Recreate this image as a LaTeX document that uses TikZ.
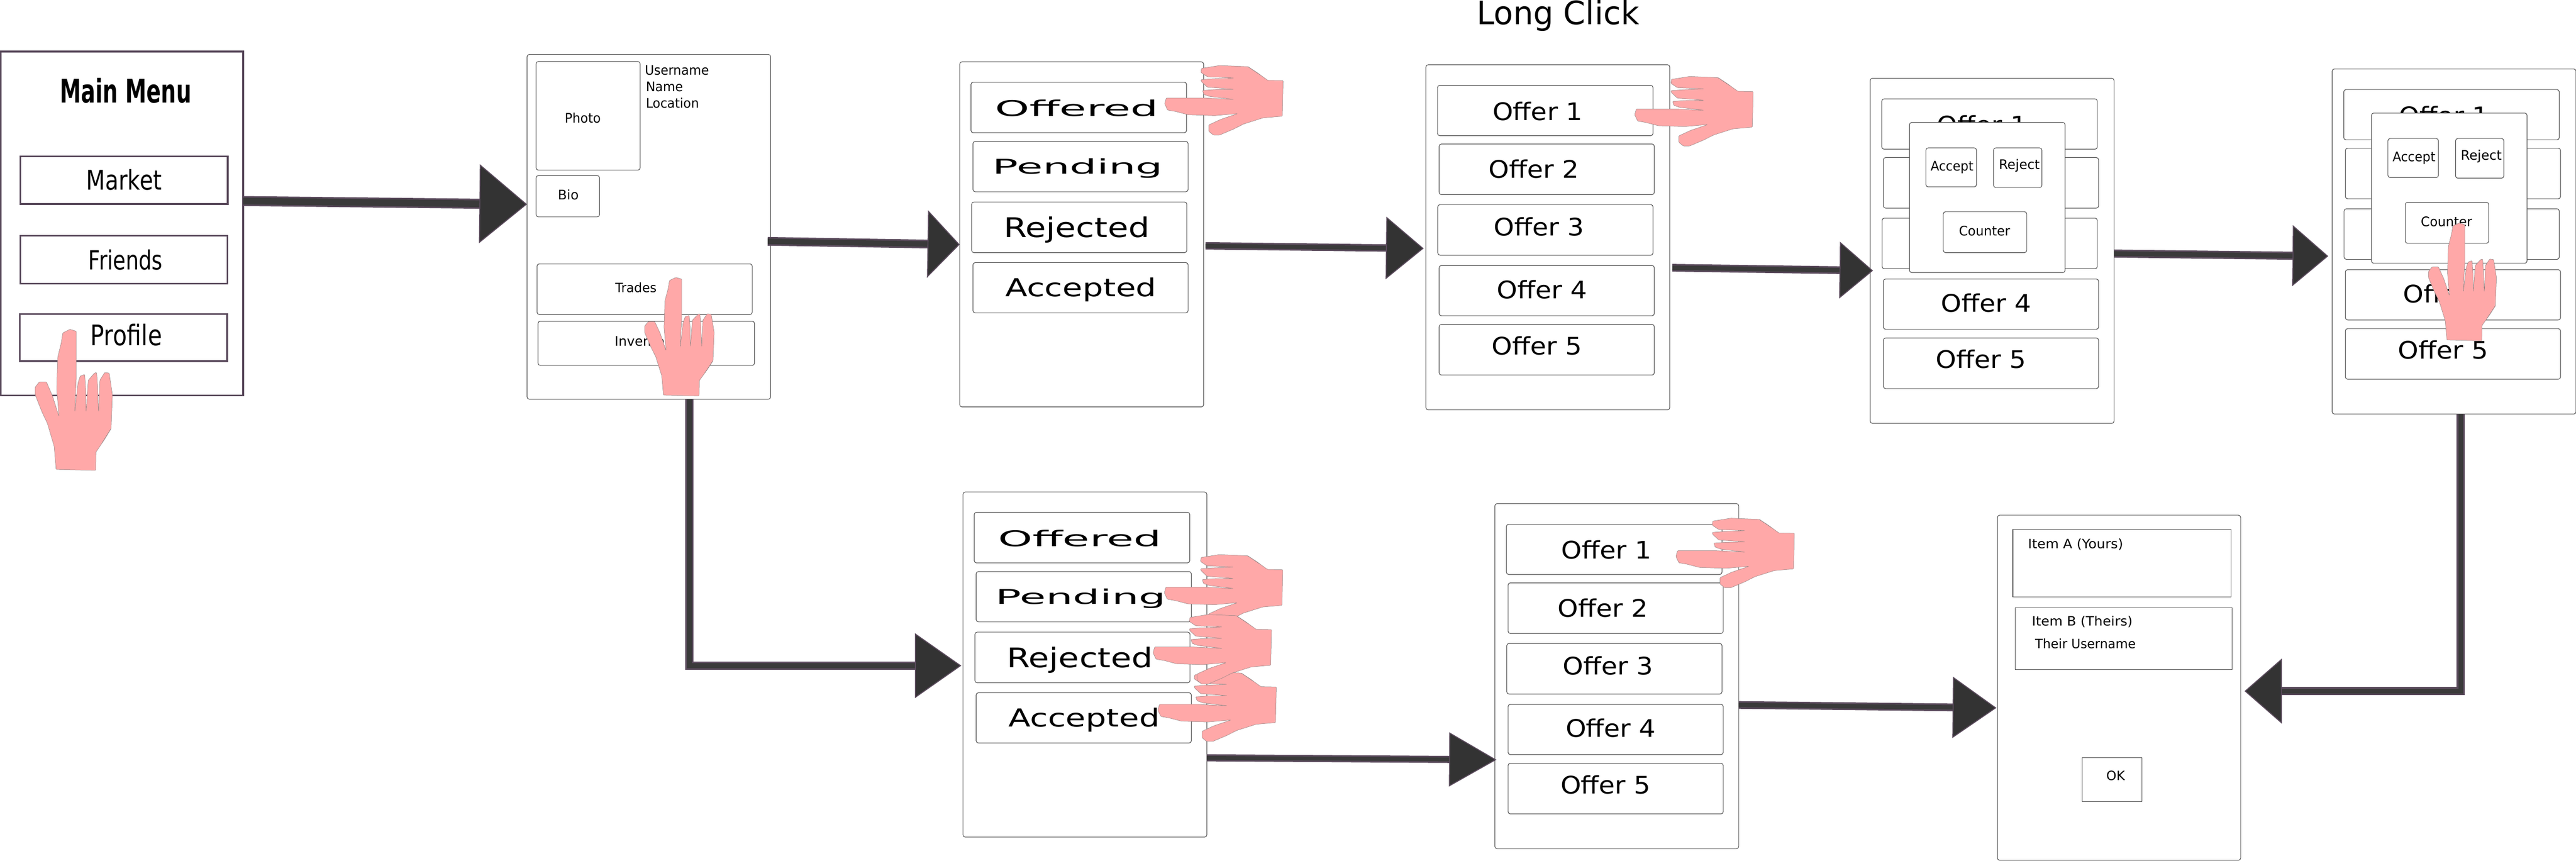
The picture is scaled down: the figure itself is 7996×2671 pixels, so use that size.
\documentclass[tikz,border=0pt]{standalone}
\usepackage{fontspec}
\setmainfont{DejaVu Sans}
\usetikzlibrary{arrows.meta}
\definecolor{menuline}{HTML}{5A4A5C}
\definecolor{thinline}{HTML}{4A4A4A}
\definecolor{shaftc}{HTML}{3A3A3A}
\definecolor{headc}{HTML}{333333}
\definecolor{handc}{HTML}{FFA8A8}
\definecolor{handline}{HTML}{8A8080}
\tikzset{
  screenbox/.style={draw=thinline,line width=1.8pt,fill=white,rounded corners=7pt,inner sep=0pt,outer sep=0pt},
  menubox/.style={draw=menuline,line width=5.5pt,fill=white,inner sep=0pt,outer sep=0pt},
  squarebox/.style={draw=thinline,line width=1.8pt,fill=white,inner sep=0pt,outer sep=0pt},
  labeltext/.style={inner sep=0pt,outer sep=0pt,text=black},
}
% box by corners: name, style, x1, y1, x2, y2
\newcommand{\bx}[6]{%
  \pgfmathsetmacro{\bxcx}{(#3+#5)/2}\pgfmathsetmacro{\bxcy}{(#4+#6)/2}%
  \pgfmathsetmacro{\bxw}{#5-#3}\pgfmathsetmacro{\bxh}{#6-#4}%
  \node[#2,minimum width=\bxw pt,minimum height=\bxh pt] (#1) at (\bxcx,\bxcy) {};}
% centred text on baseline: name, x, baseline, size, xscale, text
\newcommand{\tc}[6]{\node[labeltext,anchor=base,font=\fontsize{#4}{#4}\selectfont] (#1) at (#2,#3) {\scalebox{#5}[1]{#6}};}
% left aligned text on baseline
\newcommand{\tl}[6]{\node[labeltext,anchor=base west,font=\fontsize{#4}{#4}\selectfont] (#1) at (#2,#3) {\scalebox{#5}[1]{#6}};}
\newcommand{\offerscreen}[3]{%
  \begin{scope}[shift={(#2,#3)}]
    \bx{#1}{screenbox}{0}{0}{757}{1071}
    \bx{#1o1}{screenbox}{36}{64}{705}{220}
    \bx{#1o2}{screenbox}{41}{246}{709}{403}
    \bx{#1o3}{screenbox}{37}{434}{705}{591}
    \bx{#1o4}{screenbox}{41}{623}{709}{779}
    \bx{#1o5}{screenbox}{41}{806}{709}{963}
    \tc{#1t1}{347}{172}{75}{1.08}{Offer 1}
    \tc{#1t4}{360}{725}{75}{1.08}{Offer 4}
    \tc{#1t5}{344}{900}{75}{1.08}{Offer 5}
  \end{scope}}
\newcommand{\popup}[3]{%
  \begin{scope}[shift={(#2,#3)}]
    \bx{#1pop}{screenbox}{122}{137}{605}{603}
    \bx{#1acc}{screenbox}{173}{216}{330}{337}
    \bx{#1rej}{screenbox}{383}{216}{533}{339}
    \bx{#1cnt}{screenbox}{227}{414}{486}{541}
    \tc{#1tacc}{254}{287}{41}{0.95}{Accept}
    \tc{#1trej}{463}{282}{41}{1}{Reject}
    \tc{#1tcnt}{355}{489}{41}{0.97}{Counter}
  \end{scope}}
\newcommand{\statusscreen}[3]{%
  \begin{scope}[shift={(#2,#3)}]
    \bx{#1}{screenbox}{0}{0}{757}{1071}
    \bx{#1b1}{screenbox}{35}{63}{704}{220}
    \bx{#1b2}{screenbox}{41}{247}{709}{403}
    \bx{#1b3}{screenbox}{37}{435}{705}{592}
    \bx{#1b4}{screenbox}{41}{623}{709}{779}
    \tc{#1t1}{363}{169}{67}{2.03}{Offered}
    \tc{#1t2}{366}{348}{63}{2.1}{Pending}
    \tc{#1t3}{363}{545}{84}{1.24}{Rejected}
    \tc{#1t4}{376}{729}{77}{1.31}{Accepted}
  \end{scope}}
% hand: tip x, tip y, rotation, xscale, yscale
\newcommand{\hand}[5]{%
  \begin{scope}[shift={(#1,#2)},rotate=#3,xscale=#4,yscale=#5]
    \filldraw[fill=handc,draw=handline,line width=0.8pt,rounded corners=2pt]
      (0,0) -- (20,6) -- (20,149) -- (15,256) -- (25,167) -- (32,145) -- (46,140) -- (49,185)
      -- (50,256) -- (57,158) -- (76,136) -- (83,134) -- (86,176) -- (89,256) -- (93,158)
      -- (108,134) -- (122,136) -- (132,203) -- (128,308) -- (108,341) -- (81,381)
      -- (80,438) -- (-43,435) -- (-49,363) -- (-70,292) -- (-87,256) -- (-108,203)
      -- (-108,180) -- (-95,163) -- (-73,163) -- (-54,207) -- (-34,270) -- (-41,185)
      -- (-38,87) -- (-27,42) -- (-22,11) -- cycle;
    \draw[draw=handline,line width=0.8pt] (128,308) -- (100,352);
  \end{scope}}
% connector styling: shaft width, head length, head width
\tikzset{
  flow/.style n args={3}{draw=menuline,line width=5pt,double=shaftc,double distance={#1pt-10pt},
    line join=miter,
    -{Triangle[length=#2pt,width=#3pt,fill=headc,color=menuline,line width=3pt]}},
}
\begin{document}
\begin{tikzpicture}[x=1pt,y=-1pt]
\useasboundingbox (0,0) rectangle (7996,2671);
\fill[white] (0,0) rectangle (7996,2671);

\tc{title}{4836}{76}{100}{0.985}{Long Click}

% main menu
\bx{s1}{menubox}{2}{160}{755}{1227}
\bx{market}{menubox}{63}{485}{707}{633}
\bx{friends}{menubox}{63}{732}{706}{880}
\bx{profile}{menubox}{62}{975}{705}{1121}
\node[labeltext,anchor=base,font=\fontsize{101}{101}\selectfont\bfseries] (tmain) at (390,319) {\scalebox{0.655}[1]{Main Menu}};
\tc{tmarket}{385}{589}{84}{0.81}{Market}
\tc{tfriends}{390}{837}{82}{0.78}{Friends}
\tc{tprofile}{392}{1073}{88}{0.81}{Profile}

% profile
\bx{s2}{screenbox}{1636}{169}{2392}{1239}
\bx{photo}{screenbox}{1664}{191}{1987}{528}
\bx{bio}{screenbox}{1664}{545}{1861}{673}
\bx{trades}{screenbox}{1667}{819}{2335}{976}
\bx{inventory}{screenbox}{1670}{997}{2342}{1134}
\tc{tphoto}{1809}{381}{41}{0.95}{Photo}
\tc{tbio}{1764}{620}{41}{1}{Bio}
\tl{tuser}{2002}{232}{41}{0.95}{Username}
\tl{tname}{2005}{284}{41}{0.95}{Name}
\tl{tloc}{2005}{335}{41}{0.95}{Location}
\tc{ttrades}{1974}{908}{40}{0.98}{Trades}
\tl{tinv}{1908}{1074}{41}{1}{Inventory}

% trade lists
\statusscreen{sa}{2979}{192}
\statusscreen{sb}{2989}{1527}

% offer lists
\offerscreen{oa}{4426}{201}
\begin{scope}[shift={(4426,201)}]
  \tc{oat2}{335}{352}{75}{1.08}{Offer 2}
  \tc{oat3}{351}{531}{75}{1.08}{Offer 3}
\end{scope}
\offerscreen{ob}{5805}{243}
\popup{ob}{5805}{243}
\offerscreen{oc}{7239}{214}
\popup{oc}{7239}{214}
\offerscreen{od}{4640}{1563}
\begin{scope}[shift={(4640,1563)}]
  \tc{odt2}{335}{352}{75}{1.08}{Offer 2}
  \tc{odt3}{351}{531}{75}{1.08}{Offer 3}
\end{scope}

% trade summary
\bx{s8}{screenbox}{6200}{1599}{6955}{2670}
\bx{itema}{squarebox}{6248}{1643}{6925}{1852}
\bx{itemb}{squarebox}{6255}{1886}{6928}{2078}
\bx{okbtn}{squarebox}{6463}{2352}{6648}{2488}
\tl{titema}{6295}{1702}{40}{1.05}{Item A (Yours)}
\tl{titemb}{6307}{1942}{40}{1.05}{Item B (Theirs)}
\tl{ttheir}{6317}{2013}{40}{0.98}{Their Username}
\tl{tok}{6538}{2422}{40}{1}{OK}

% connectors
\draw[flow={31}{148}{245}] ([yshift=69.5pt]s1.east) -- ([yshift=70pt]s2.west);
\draw[flow={27}{100}{209}] ([xshift=-9pt,yshift=-45pt]s2.east) -- ([yshift=-31.5pt]sa.west);
\draw[flow={23}{117}{194}] ([xshift=6pt,yshift=-35.5pt]sa.east) -- ([xshift=-7pt,yshift=-34.5pt]oa.west);
\draw[flow={24}{104}{176}] ([xshift=8pt,yshift=-94.5pt]oa.east) -- ([xshift=9pt,yshift=-61.5pt]ob.west);
\draw[flow={25}{111}{189}] ([yshift=-8.5pt]ob.east) -- ([xshift=-12pt,yshift=-45.5pt]oc.west);
\draw[flow={25}{116}{202}] ([xshift=20.5pt]oc.south) |- ([xshift=12pt,yshift=-10.5pt]s8.east);
\draw[flow={25}{144}{201}] ([xshift=126pt]s2.south) |- ([xshift=-5pt,yshift=-3.5pt]sb.west);
\draw[flow={22}{147}{168}] ([yshift=-289.5pt]sb.east) -- ([xshift=5pt,yshift=-259.5pt]od.west);
\draw[flow={24}{136}{190}] ([yshift=-89.5pt]od.east) -- ([xshift=-3pt,yshift=-62.5pt]s8.west);

% hands
\hand{217}{1022}{0}{1}{1}
\hand{2098}{861}{0}{0.9}{0.84}
\hand{7633}{692}{0}{0.88}{0.835}
\hand{3615}{322}{90}{0.9}{0.84}
\hand{5074}{356}{90}{0.9}{0.84}
\hand{5202}{1727}{90}{0.9}{0.84}
\hand{3614}{1840}{90}{0.9}{0.84}
\hand{3594}{2204}{90}{0.9}{0.84}
\hand{3579}{2026}{90}{0.9}{0.84}
\end{tikzpicture}
\end{document}
